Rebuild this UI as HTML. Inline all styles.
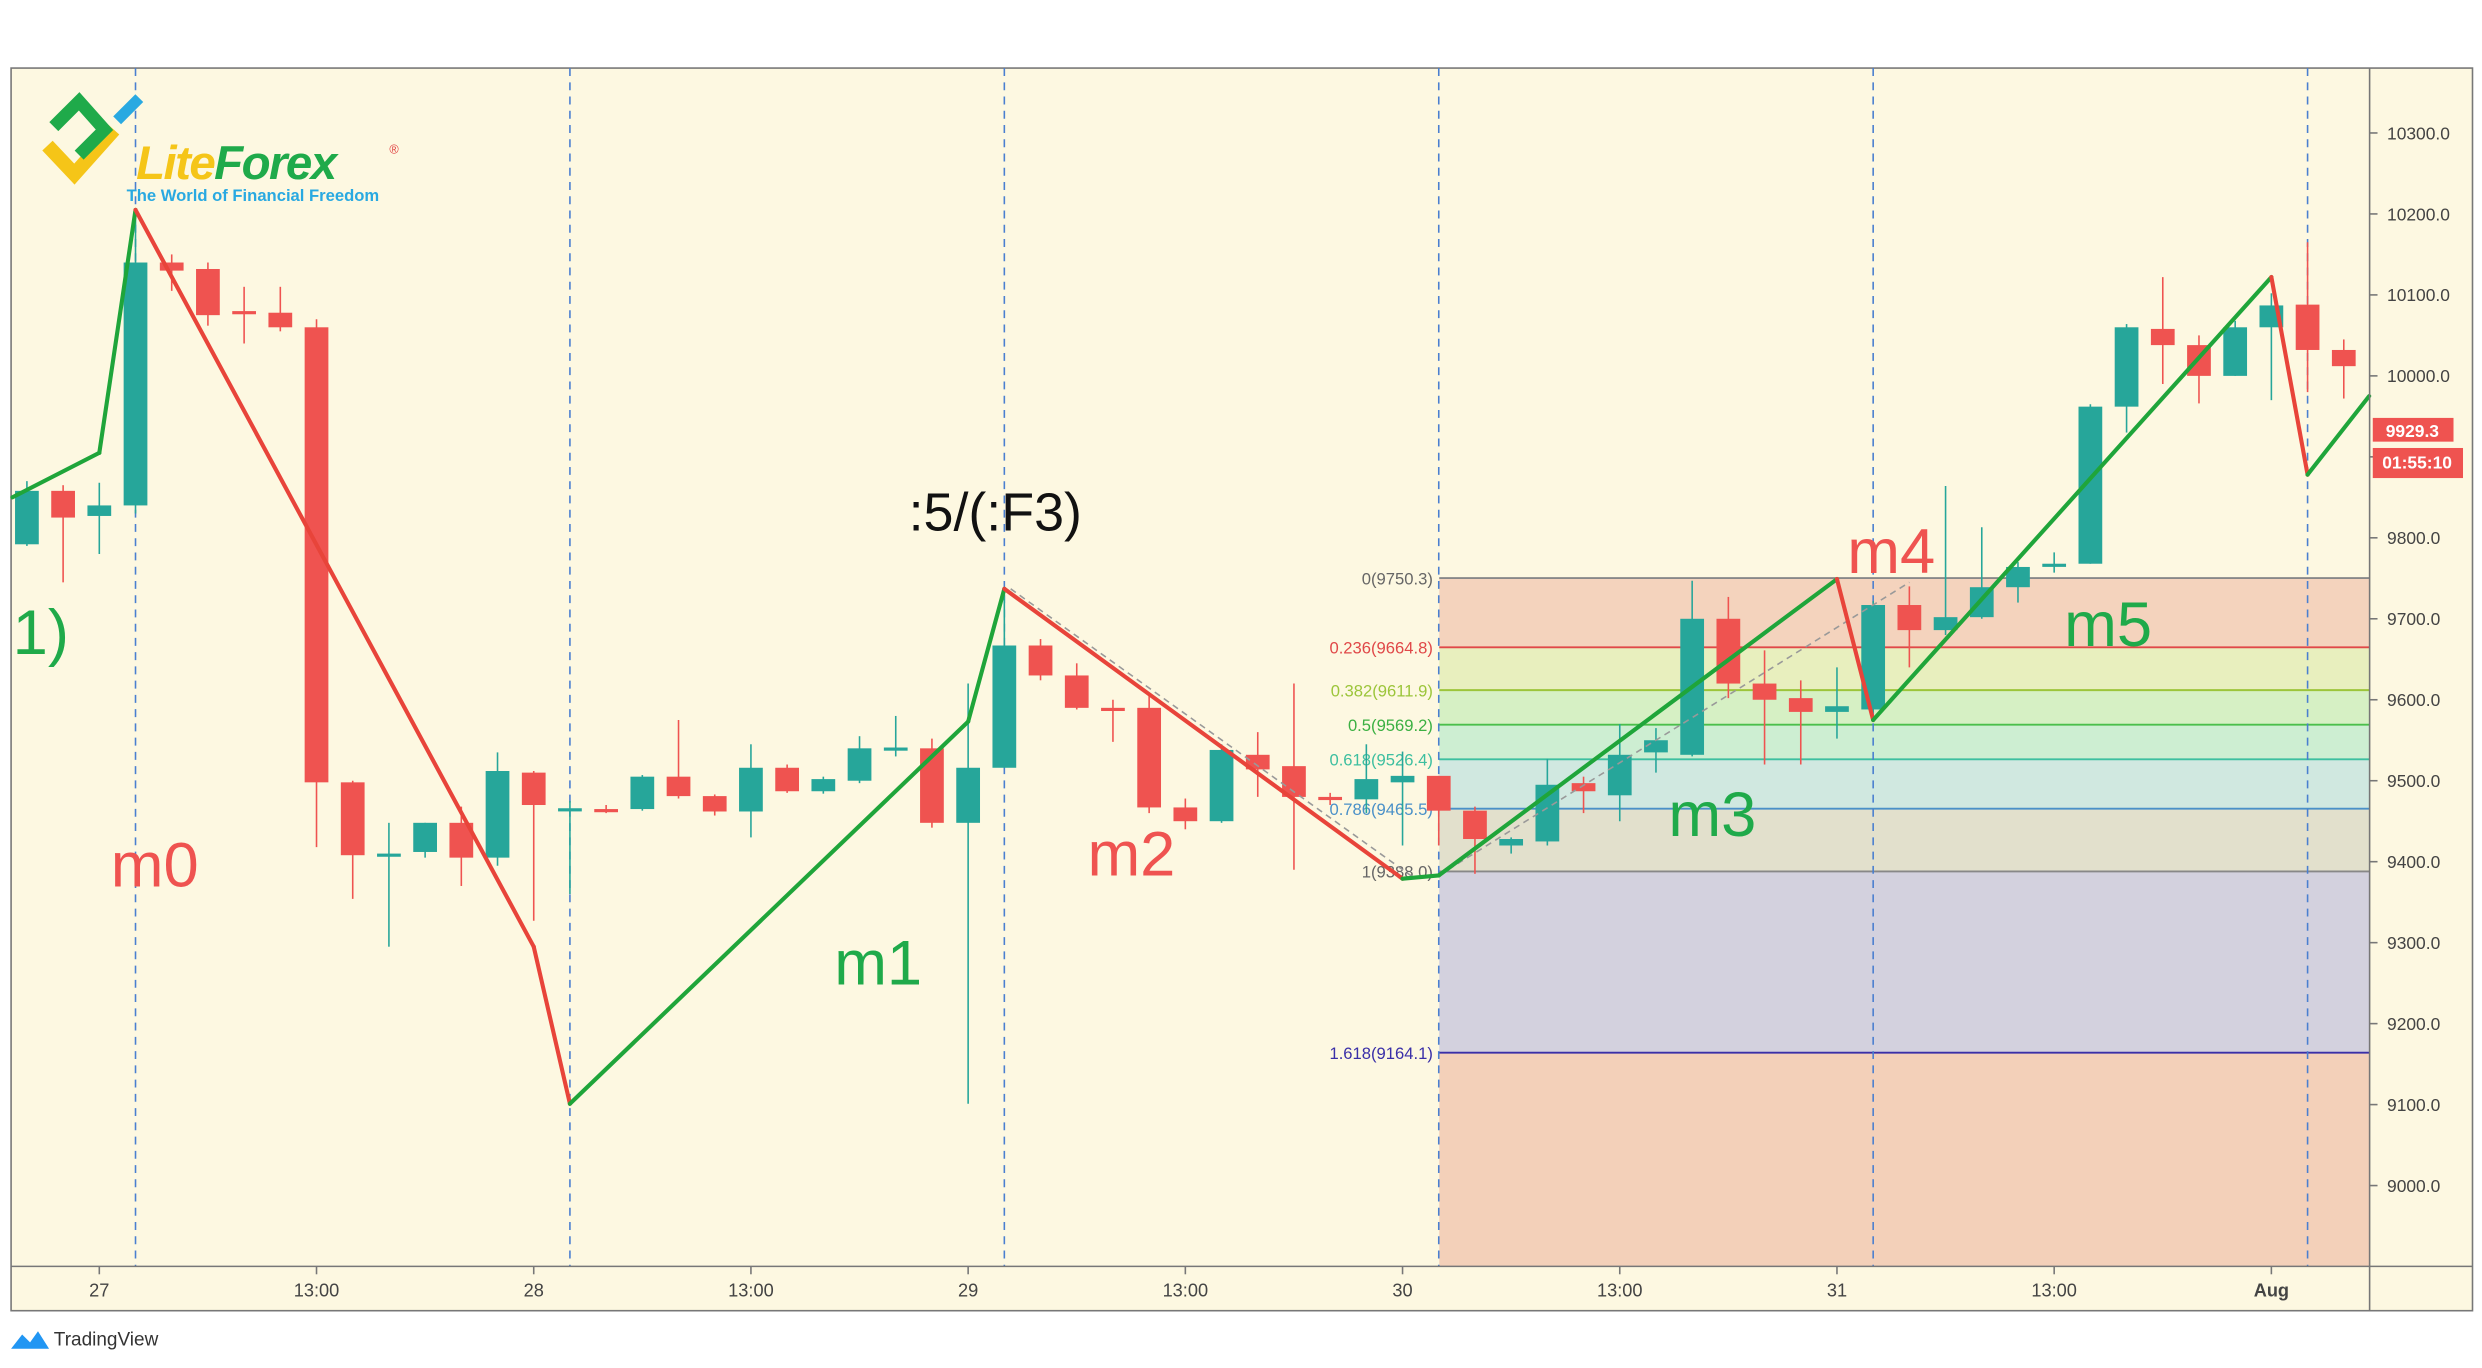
<!DOCTYPE html>
<html><head><meta charset="utf-8"><style>
html,body{margin:0;padding:0;background:#fff;}
svg{display:block;font-family:"Liberation Sans","DejaVu Sans",sans-serif;}
</style></head><body>
<svg id="chart" width="2482" height="1368" viewBox="0 0 1568 864.2" preserveAspectRatio="none" xmlns="http://www.w3.org/2000/svg">
<rect x="0" y="0" width="1568" height="864.2" fill="#ffffff"/>
<rect x="7" y="43" width="1555" height="785" fill="#fdf8e1" stroke="#777" stroke-width="1"/>
<g id="fib"></g>
<g id="vlines"></g>
<g id="candles"></g>
<g id="zig"></g>
<g id="axes"></g>
<line x1="1497" y1="43" x2="1497" y2="828" stroke="#777" stroke-width="1"/>
<line x1="7" y1="800" x2="1562" y2="800" stroke="#777" stroke-width="1"/>
<g>
<path d="M30 92 L47 110 L72 82" fill="none" stroke="#f5c518" stroke-width="9"/>
<path d="M34 80 L50 64 L66 82 L50 98" fill="none" stroke="#1faa4a" stroke-width="8"/>
<path d="M74 76 L88 62" stroke="#29a9e1" stroke-width="7"/>
<text x="86" y="113" font-size="30" font-weight="bold" font-style="italic" letter-spacing="-1"><tspan fill="#f5c518">Lite</tspan><tspan fill="#1faa4a">Forex</tspan></text>
<text x="246" y="97" font-size="8" fill="#e04040">®</text>
<text x="80" y="127" font-size="10.5" font-weight="bold" fill="#29a9e1">The World of Financial Freedom</text>
</g>
<g font-size="40">
<text x="8" y="413" fill="#1faa4a">1)</text>
<text x="70" y="560" fill="#ef5350">m0</text>
<text x="574" y="335" fill="#111" font-size="34">:5/(:F3)</text>
<text x="527" y="622" fill="#1faa4a">m1</text>
<text x="687" y="553" fill="#ef5350">m2</text>
<text x="1054" y="528" fill="#1faa4a">m3</text>
<text x="1167" y="362" fill="#ef5350">m4</text>
<text x="1304" y="408" fill="#1faa4a">m5</text>
</g>
<g>
<rect x="1499" y="264" width="51" height="15" fill="#ef5350"/>
<text x="1524" y="276" font-size="11" font-weight="bold" fill="#fff" text-anchor="middle">9929.3</text>
<rect x="1499" y="283" width="57" height="19" fill="#ef5350"/>
<text x="1527" y="296" font-size="11" font-weight="bold" fill="#fff" text-anchor="middle">01:55:10</text>
</g>
<g>
<path d="M7 852 L14 843 L19 848 L24 841 L31 852 Z" fill="#2196f3"/>
<text x="34" y="850" font-size="12" fill="#333">TradingView</text>
</g>
</svg>
<script>
const opens=[9792,9858,9827,9840,10140,10132,10080,10078,10060,9498,9408,9412,9448,9405,9510,9465,9465,9465,9505,9481,9462,9516,9487,9500,9540,9540,9448,9516,9667,9630,9590,9590,9467,9450,9532,9518,9480,9477,9498,9506,9463,9420,9425,9497,9482,9535,9532,9700,9620,9602,9585,9588,9717,9686,9702,9739,9766,9768,9962,10058,10038,10000,10060,10088,10032];
const closes=[9858,9825,9840,10140,10130,10075,10078,10060,9498,9408,9410,9448,9405,9512,9470,9466,9464,9505,9481,9462,9516,9487,9502,9540,9541,9448,9516,9667,9630,9590,9589,9467,9450,9538,9514,9480,9478,9502,9506,9463,9428,9428,9495,9487,9532,9550,9700,9620,9600,9585,9592,9717,9686,9702,9739,9764,9768,9962,10060,10038,10000,10060,10087,10032,10012];
const highs=[9870,9865,9868,10204,10150,10140,10110,10110,10070,9500,9448,9448,9468,9535,9512,9475,9470,9507,9575,9483,9545,9520,9505,9555,9580,9552,9620,9737,9675,9645,9600,9605,9478,9545,9560,9620,9485,9545,9536,9506,9468,9430,9527,9505,9570,9565,9747,9727,9661,9624,9640,9722,9740,9864,9813,9770,9782,9965,10064,10122,10050,10068,10102,10165,10045];
const lows=[9790,9745,9780,9830,10105,10062,10040,10055,9418,9354,9295,9405,9370,9395,9327,9360,9460,9463,9478,9457,9430,9485,9484,9497,9530,9442,9101,9516,9624,9588,9548,9460,9440,9448,9480,9390,9470,9460,9420,9420,9385,9410,9420,9460,9450,9510,9530,9602,9520,9520,9552,9584,9640,9680,9700,9720,9757,9768,9930,9990,9966,10000,9970,9980,9972];
const zigIdx=[-0.4,2,3,14,15,26,27,38,39,50,51,62,63,64.7];
const zigPrice=[9850,9905,10205,9295,9101,9573,9737,9379,9383,9749,9575,10122,9878,9975];
const fibLevels=[0,0.236,0.382,0.5,0.618,0.786,1,1.618];
const fibPrices=[9750.3,9664.8,9611.9,9569.2,9526.4,9465.5,9388.0,9164.1];
const priceTicks=[10300,10200,10100,10000,9900,9800,9700,9600,9500,9400,9300,9200,9100,9000];
const timeTickIdx=[2,8,14,20,26,32,38,44,50,56,62];
const timeTickLabels=["27","13:00","28","13:00","29","13:00","30","13:00","31","13:00","Aug"];
const dayLineIdx=[3,15,27,39,51,63];

const NS="http://www.w3.org/2000/svg";
const xS=i=>17+22.87*i;
const yS=p=>84+(10300-p)*0.5115;
function mk(tag,attrs,parent){const e=document.createElementNS(NS,tag);for(const k in attrs)e.setAttribute(k,attrs[k]);document.getElementById(parent).appendChild(e);return e;}

const fx0=xS(39)+0.3, fx1=1497;
const bandFill=["#f4d3bd","#e8efbe","#d6f0c4","#cdeed2","#d0e8e0","#e2e0cc","#d3d1de","#f3d0b9"];
const lineCol=["#888","#e04848","#9cc53a","#4bbf4b","#3dbfa0","#4a90c8","#888","#3a2fa8"];
const lblCol=["#666","#e04848","#9cc53a","#3cb043","#3dbfa0","#4a90c8","#666","#3a2fa8"];
for(let k=0;k<fibPrices.length;k++){
  const top=yS(fibPrices[k]);
  const bot=k<fibPrices.length-1?yS(fibPrices[k+1]):800;
  const r=mk('rect',{x:fx0,y:top,width:fx1-fx0,height:bot-top,fill:bandFill[k]},'fib');
  
  
}
for(let k=0;k<fibPrices.length;k++){
  const y=yS(fibPrices[k]);
  const l=mk('line',{x1:fx0,y1:y,x2:fx1,y2:y,stroke:lineCol[k],'stroke-width':1.2},'fib');
  
  
  const t=mk('text',{x:fx0-4,y:y+4,'font-size':10.5,fill:lblCol[k],'text-anchor':'end'},'fib');
  t.textContent=fibLevels[k]+"("+fibPrices[k].toFixed(1)+")";
  
  
}
for(const d of dayLineIdx){
  const l=mk('line',{x1:xS(d),y1:43,x2:xS(d),y2:800,stroke:'#4a7fd0','stroke-width':1,'stroke-dasharray':'5,4'},'vlines');
  
  
}
for(let i=0;i<opens.length;i++){
  const up=closes[i]>=opens[i];
  const c=up?'#26a69a':'#ef5350';
  const x=xS(i);
  const w=mk('line',{x1:x,y1:yS(highs[i]),x2:x,y2:yS(lows[i]),stroke:c,'stroke-width':1},'candles');
  
  
  const t=yS(Math.max(opens[i],closes[i])),b=yS(Math.min(opens[i],closes[i]));
  const r=mk('rect',{x:x-7.5,y:t,width:15,height:Math.max(b-t,2),fill:c},'candles');
  
  
}
const g1=mk('line',{x1:xS(27)+4,y1:yS(9737),x2:xS(38)+8,y2:yS(9379),stroke:'#999','stroke-width':1,'stroke-dasharray':'4,3'},'zig');


const g2=mk('line',{x1:xS(39),y1:yS(9383),x2:xS(52),y2:yS(9745),stroke:'#999','stroke-width':1,'stroke-dasharray':'4,3'},'zig');


for(let k=0;k<zigIdx.length-1;k++){
  const upSeg=zigPrice[k+1]>zigPrice[k];
  const l=mk('line',{x1:Math.max(xS(zigIdx[k]),7),y1:yS(zigPrice[k]),x2:xS(zigIdx[k+1]),y2:yS(zigPrice[k+1]),stroke:upSeg?'#1fa53a':'#e8443a','stroke-width':2.6,'stroke-linecap':'round'},'zig');
  
  
}
for(const p of priceTicks){
  const y=yS(p);
  mk('line',{x1:1497,y1:y,x2:1502,y2:y,stroke:'#777'},'axes');
  const t=mk('text',{x:1508,y:y+4,'font-size':11,fill:'#444'},'axes');
  t.textContent=p.toFixed(1);
  
  
}
for(let k=0;k<timeTickIdx.length;k++){
  const x=xS(timeTickIdx[k]);
  mk('line',{x1:x,y1:800,x2:x,y2:805,stroke:'#777'},'axes');
  const t=mk('text',{x:x,y:819,'font-size':11.5,fill:'#444','text-anchor':'middle','font-weight':timeTickLabels[k]==='Aug'?'bold':'normal'},'axes');
  t.textContent=timeTickLabels[k];
  
  
}
</script>
</body></html>
